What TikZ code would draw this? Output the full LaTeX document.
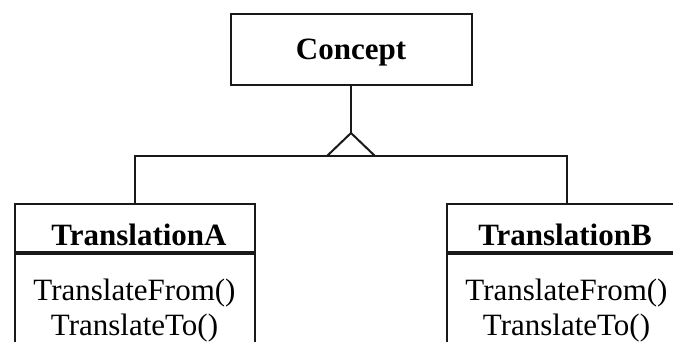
\documentclass[tikz,border=0pt]{standalone}
\usepackage{fontspec}
\setmainfont{Liberation Serif}
\begin{document}
\begin{tikzpicture}[x=1pt,y=-1pt,
  box/.style={draw=black!90,line width=2pt,inner sep=0pt,fill=none},
  titletext/.style={inner sep=0pt,anchor=base,font=\fontsize{31}{36}\selectfont\bfseries},
  optext/.style={inner sep=0pt,anchor=base,font=\fontsize{31}{36}\selectfont},
  conn/.style={draw=black!90,line width=2pt}]
\useasboundingbox (0,0) rectangle (673,341);
\clip (0,0) rectangle (673,341);
% Concept
\node[box,minimum width=241pt,minimum height=71pt] (concept) at (351,49) {};
\node[titletext] (conceptT) at (351,59) {Concept};
% TranslationA
\node[box,minimum width=240pt,minimum height=48pt] (hdrA) at (135,228) {};
\node[box,minimum width=240pt,minimum height=140pt,anchor=north] (bodyA) at (hdrA.south) {};
\node[titletext] (tA) at (139,245) {TranslationA};
\node[optext] (fromA) at (134.5,300) {TranslateFrom()};
\node[optext] (toA) at (134.5,335) {TranslateTo()};
% TranslationB
\node[box,minimum width=240pt,minimum height=48pt] (hdrB) at (567,228) {};
\node[box,minimum width=240pt,minimum height=140pt,anchor=north] (bodyB) at (hdrB.south) {};
\node[titletext] (tB) at (565,245) {TranslationB};
\node[optext] (fromB) at (566.5,300) {TranslateFrom()};
\node[optext] (toB) at (566.5,335) {TranslateTo()};
% generalization
\coordinate (apex) at (351,133);
\coordinate (junction) at (351,156);
\coordinate (tl) at (327,156);
\coordinate (tr) at (375,156);
\draw[conn] (concept.south) -- (apex);
\draw[conn,line join=miter] (tl) -- (apex) -- (tr);
\draw[conn] (hdrA.north) |- (junction) -| (hdrB.north);
\end{tikzpicture}
\end{document}
